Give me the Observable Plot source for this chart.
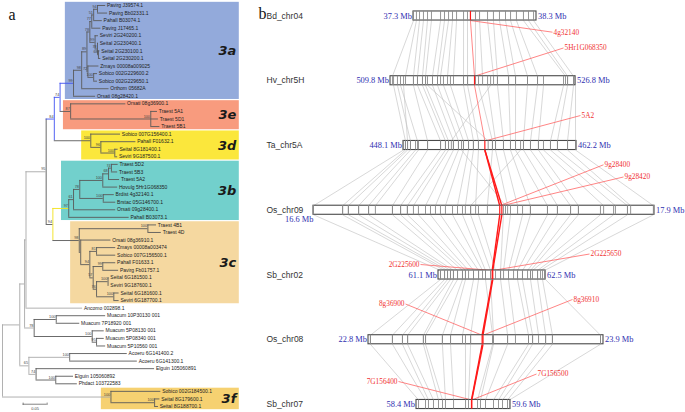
<!DOCTYPE html>
<html><head><meta charset="utf-8">
<script src="https://cdn.jsdelivr.net/npm/d3@7"></script>
<script src="https://cdn.jsdelivr.net/npm/@observablehq/plot@0.6"></script>
<style>
body{margin:0;background:#fff;}
#fig{position:relative;width:685px;height:412px;overflow:hidden;background:#fff;}
#fig > svg{position:absolute;top:0;}
</style></head><body><div id="fig"></div>
<script>
// ================= DATA: panel a (phylogenetic tree) =================
// leaves in drawing order: [name, parent node, distance from root (subst./site)]
const leaves = [
 ["Pavirg J39574.1","N94p",0.215],["Pavirg Bb02331.1","N94p",0.219],["Pahall B03074.1","N51",0.208],
 ["Pavirg J17465.1","N77",0.205],["Seviri 2G240200.1","N99s",0.200],["Seital 2G230400.1","N78s",0.200],
 ["Seital 2G230100.1","N68s",0.203],["Seital 2G230200.1","N68s",0.205],["Zmays 00008a009025","N72",0.201],
 ["Sobico 002G229600.2","N100s",0.198],["Sobico 002G229650.1","N100s",0.198],["Orthom 05682A","N98a",0.222],
 ["Orsati 08g28420.1","N99a",0.194],["Orsati 08g36900.1","N87",0.257],["Traest 5A1","N100t",0.323],
 ["Traest 5D1","N100t",0.325],["Traest 5B1","N100t",0.328],["Sobico 007G156400.1","N3d",0.246],
 ["Pahall F01632.1","N96",0.278],["Seital 8G181400.1","N100s2",0.241],["Seviri 9G187500.1","N100s2",0.240],
 ["Traest 5D2","N74t",0.241],["Traest 5B3","N74t",0.240],["Traest 5A2","N68t",0.244],
 ["Hovulg 5Hr1G068350","N100tr",0.240],["Brdist 4g32140.1","N100br",0.233],["Brstac 05G146700.1","N100br",0.236],
 ["Orsati 09g28400.1","N61",0.236],["Pahall B03073.1","N97",0.264],["Traest 4B1","N100q",0.321],
 ["Traest 4D","N100q",0.331],["Orsati 08g36910.1","No",0.226],["Zmays 00008a003474","N81",0.236],
 ["Sobico 007G156500.1","N81",0.236],["Pahall F01633.1","N99c",0.236],["Pavirg Fb01757.1","N99c",0.242],
 ["Seital 6G181500.1","N100c",0.222],["Seviri 9G187600.1","N100c",0.222],["Seital 6G181600.1","N100d",0.243],
 ["Seviri 6G187700.1","N100d",0.243],["Ancomo 002898.1","U2",0.167],["Muacum 10P30130 001","N100m1",0.215],
 ["Muacum 7P18920 001","N100m1",0.161],["Muacum 5P08130 001","N100m2",0.212],["Muacum 5P08340 001","N95m",0.212],
 ["Muacum 5P10560 001","N95m",0.215],["Acoeru 6G141400.2","N100ac",0.260],["Acoeru 6G141300.1","N100ac",0.281],
 ["Elguin 105060891","N74e",0.317],["Elguin 105060892","N100e",0.148],["Phdact 103722583","N100e",0.156],
 ["Sobico 002G184500.1","N100f",0.330],["Seital 8G179600.1","N100f2",0.328],["Seital 8G188700.1","N100f2",0.325]
];
// internal nodes: [id, parent, distance from root, bootstrap support]
const internalNodes = [
 ["R",null,0,""],["B","R",0.036,""],["U","B",0.046,""],["U2","U",0.049,""],
 ["N95","U2",0.091,"95"],["N84","N95",0.108,"84"],["N74","N84",0.120,"74"],["N99a","N74",0.148,"99"],
 ["N98a","N99a",0.165,"98"],["N89","N98a",0.176,"89"],["N78a","N89",0.182,"78"],["N77","N78a",0.186,"77"],
 ["N51","N77",0.190,"51"],["N94p","N51",0.198,"94"],["N99s","N78a",0.193,"99"],["N78s","N99s",0.198,"78"],
 ["N68s","N78s",0.200,"68"],["N72","N89",0.178,"72"],["N100s","N72",0.190,"100"],["N87","N74",0.142,"87"],
 ["N100t","N87",0.309,"100"],["N3d","N84",0.184,"100"],["N96","N3d",0.205,"96"],["N100s2","N96",0.234,"100"],
 ["N94","N95",0.105,"94"],["N97","N94",0.138,"97"],["N61","N97",0.148,"61"],["N78b","N61",0.161,"78"],
 ["N100tr","N78b",0.209,"100"],["N68t","N100tr",0.221,"68"],["N74t","N68t",0.227,"74"],["N100br","N78b",0.210,"100"],
 ["N98c","N94",0.160,"98"],["N100q","N98c",0.303,"100"],["No","N98c",0.163,""],["N94b","No",0.182,"94"],
 ["N81","N94b",0.196,"81"],["N57","N94b",0.189,"57"],["N99c","N57",0.209,"99"],["N76","N57",0.196,"76"],
 ["N100c","N76",0.220,"100"],["N100d","N76",0.232,"100"],["N78m","U",0.066,"78"],["N100m1","N78m",0.112,"100"],
 ["N100m2","N78m",0.187,"100"],["N95m","N100m2",0.196,"95"],["N65","B",0.055,"65"],["N100ac","N65",0.140,"100"],
 ["N74e","N65",0.070,"74"],["N100e","N74e",0.111,"100"],["N100f","R",0.226,"100"],["N100f2","N100f",0.317,"100"]
];
// clades: name, first leaf, last leaf (1-based), distance where shading starts
const cladeNames = ["3a","3e","3d","3b","3c","3f"];
const cladeFirst = [1,14,18,22,30,52];
const cladeLast  = [13,17,21,29,40,54];
const cladeFrom  = [0.131,0.127,0.165,0.123,0.142,0.206];
const scaleBarLength = 0.05;

// ================= DATA: panel b (synteny) =================
const chromNames = ["Bd_chr04","Hv_chr5H","Ta_chr5A","Os_chr09","Sb_chr02","Os_chr08","Sb_chr07"];
const chromStart = [37.3,509.8,448.1,16.6,61.1,22.8,58.4];   // Mb
const chromEnd   = [38.3,526.8,462.2,17.9,62.5,23.9,59.6];   // Mb
// collinear gene pairs between neighbouring chromosomes: [upper Mb, lower Mb]
const linksBdHv = [[37.300,509.98],[37.324,511.18],[37.349,511.91],[37.381,512.28],[37.414,512.74],[37.446,513.02],[37.520,513.66],[37.552,514.12],[37.585,514.40],[37.617,515.04],[37.650,515.59],[37.707,516.51],[37.739,516.88],[37.804,517.61],[37.837,518.26],[37.902,519.27],[37.950,519.63],[37.999,520.65],[38.048,521.29],[38.089,522.39],[38.137,523.31],[38.194,525.88],[38.235,526.07],[38.276,526.62]];
const linksHvTa = [[510.08,448.26],[510.44,448.67],[510.72,449.24],[511.00,448.43],[511.91,450.06],[512.28,451.12],[512.74,451.52],[513.02,451.77],[513.66,452.17],[514.12,452.58],[514.67,452.99],[515.31,453.40],[516.51,453.80],[516.88,454.21],[517.89,455.35],[518.72,455.60],[519.63,456.25],[520.65,456.82],[521.29,457.23],[522.39,457.88],[523.31,458.45],[523.86,459.10],[525.70,460.08],[526.07,460.65],[526.62,461.47],[526.80,462.12],[513.20,455.00],[519.00,452.00]];
const linksTaOs09 = [[448.10,16.600],[448.26,16.711],[448.43,16.733],[448.67,16.772],[449.08,16.810],[449.32,16.836],[450.06,16.901],[451.12,16.932],[451.52,16.958],[451.77,16.981],[452.17,17.027],[452.58,17.065],[452.99,17.103],[453.40,17.149],[453.80,17.179],[454.21,17.218],[455.35,17.263],[455.60,17.340],[456.25,17.378],[456.82,17.427],[457.23,17.492],[457.88,17.530],[458.45,17.580],[459.10,17.610],[459.51,17.706],[460.08,17.751],[460.65,17.797],[461.47,17.809],[462.12,17.896],[452.83,17.332],[457.64,17.199]];
const linksOs09Sb02 = [[16.600,61.126],[16.711,61.179],[16.733,61.218],[16.772,61.257],[16.810,61.296],[16.901,61.349],[16.932,61.414],[16.958,61.453],[17.000,61.493],[17.046,61.558],[17.084,61.624],[17.130,61.676],[17.168,61.715],[17.199,61.781],[17.229,61.846],[17.324,61.912],[17.351,61.951],[17.397,62.016],[17.427,62.082],[17.492,62.134],[17.530,62.199],[17.580,62.265],[17.610,62.304],[17.694,62.330],[17.744,62.396],[17.797,62.435],[17.896,62.487]];
const linksSb02Os08 = [[61.126,22.809],[61.179,22.912],[61.218,22.959],[61.257,22.983],[61.296,23.057],[61.349,23.067],[61.414,23.146],[61.453,23.184],[61.558,23.240],[61.624,23.278],[61.715,23.381],[61.781,23.385],[61.912,23.451],[62.016,23.488],[62.134,23.549],[62.199,23.568],[62.304,23.596],[62.396,23.629],[62.461,23.661],[62.500,23.886]];
const linksOs08Sb07 = [[22.809,58.426],[22.912,58.515],[22.959,58.553],[22.983,58.617],[23.057,58.681],[23.067,58.732],[23.146,58.770],[23.184,58.873],[23.254,59.026],[23.278,59.064],[23.381,59.179],[23.385,59.217],[23.451,59.281],[23.549,59.383],[23.568,59.447],[23.629,59.498],[23.661,59.562],[23.886,59.588]];
// focal genes: [chromosome index, gene, Mb]
const focalGenes = [[0,"4g32140",37.763],[1,"5Hr1G068350",517.52],[2,"5A2",454.73],[3,"9g28400",17.310],[3,"9g28420",17.318],[4,"2G225600",61.803],[4,"2G225650",61.810],[5,"8g36900",23.332],[5,"8g36910",23.336],[6,"7G156400",59.102],[6,"7G156500",59.106]];
const focalLinks = [["4g32140","5Hr1G068350"],["5Hr1G068350","5A2"],["5A2","9g28400"],["5A2","9g28420"],["9g28400","2G225600"],["9g28420","2G225650"],["2G225600","8g36900"],["2G225650","8g36910"],["8g36900","7G156400"],["8g36910","7G156500"]];

// ================= LAYOUT / STYLE (not data) =================
const cladeColors = ["#93aadb","#f89b7e","#fbe73c","#72d0cc","#f5d8a0","#f6d171"];
const blueH = new Set(["N84","N74","N99a"]), blueV = new Set(["N84","N74"]);
const yellowH = new Set(["N97"]), yellowV = new Set(["N94"]);
const chromLeft  = [413,390,403,313,438,368,416];   // drawn span, figure px
const chromRight = [536,575,576,654,545,603,510];
const nameX = 266;
const geneLabelLayout = {"4g32140":[553,0.250,"start"],"5Hr1G068350":[564,0.494,"start"],"5A2":[581,1.537,"start"],
 "9g28400":[604,2.298,"start"],"9g28420":[624,2.486,"start"],"2G225600":[419,3.838,"end"],"2G225650":[590,3.676,"start"],
 "8g36900":[404,4.448,"end"],"8g36910":[573,4.378,"start"],"7G156400":[397,5.645,"end"],"7G156500":[537,5.529,"start"]};

// ================= PANEL A =================
const nodeMap = new Map();
internalNodes.forEach(([id,parent,dist,support]) => nodeMap.set(id,{id,parent,dist,support,children:[],leaf:false}));
leaves.forEach(([name,parent,dist],i) => nodeMap.set(name,{id:name,parent,dist,children:[],leaf:true,y:i+1}));
for (const n of nodeMap.values()) if (n.parent) nodeMap.get(n.parent).children.push(n);
function setY(n){ if(n.leaf) return n.y; const ys=n.children.map(setY); n.ymin=Math.min(...ys); n.ymax=Math.max(...ys); n.y=(n.ymin+n.ymax)/2; return n.y; }
setY(nodeMap.get("R"));
const all = [...nodeMap.values()];
const hSegs = all.filter(n=>n.parent).map(n=>{const p=nodeMap.get(n.parent);
  return {x1:p.dist,x2:n.dist,y:n.y,c: blueH.has(n.id)?"#3f51f0":yellowH.has(n.id)?"#f2e21a":(p.dist<0.06?"#a8a8a8":"#5a5a5a")};});
const vSegs = all.filter(n=>!n.leaf).map(n=>({x:n.dist,y1:n.ymin,y2:n.ymax,
  c: blueV.has(n.id)?"#3f51f0":yellowV.has(n.id)?"#f2e21a":(n.dist<0.06?"#a8a8a8":"#5a5a5a")}));
const supports = all.filter(n=>!n.leaf && n.support);
const xMax = 0.4935;
const clades = cladeNames.map((name,i)=>({name,y1:cladeFirst[i]-0.42,y2:cladeLast[i]+0.42,x1:cladeFrom[i],fill:cladeColors[i],ym:(cladeFirst[i]+cladeLast[i])/2}));
const leafData = leaves.map(([name,parent,dist],i)=>({name,dist,y:i+1}));
const barY = leaves.length - 0.3, barX0 = 0.043;

const tree = Plot.plot({
  width: 240, height: 412, marginLeft: 2, marginRight: 0, marginTop: 5, marginBottom: 6,
  x: {domain: [0, 0.496], axis: null},
  y: {domain: [1, leaves.length], reverse: true, axis: null},
  style: {background: "transparent", fontFamily: "'Liberation Sans', Arial, sans-serif"},
  marks: [
    Plot.rect(clades, {x1: "x1", x2: () => xMax, y1: "y1", y2: "y2", fill: "fill"}),
    Plot.ruleX(vSegs, {x: "x", y1: "y1", y2: "y2", stroke: "c", strokeWidth: 0.9}),
    Plot.ruleY(hSegs, {x1: "x1", x2: "x2", y: "y", stroke: "c", strokeWidth: 0.9}),
    Plot.text(leafData, {x: "dist", y: "y", text: "name", textAnchor: "start", dx: 1.3, fontSize: 5, fill: "#222"}),
    Plot.text(supports, {x: "dist", y: "y", text: "support", textAnchor: "end", dx: -0.8, dy: -2.6, fontSize: 3.8, fill: "#444"}),
    Plot.text(clades, {x: () => xMax, y: "ym", text: "name", textAnchor: "end", dx: -3, fontSize: 13, fontWeight: "bold", fontStyle: "italic", fill: "#1a1a1a", fontFamily: "'DejaVu Sans', sans-serif"}),
    Plot.ruleY([barY], {x1: barX0, x2: barX0 + scaleBarLength, stroke: "#666", strokeWidth: 0.8}),
    Plot.ruleX([barX0, barX0 + scaleBarLength], {y1: barY - 0.15, y2: barY + 0.15, stroke: "#666", strokeWidth: 0.8}),
    Plot.text([String(scaleBarLength)], {x: barX0 + scaleBarLength/2, y: barY + 0.65, fontSize: 4, fill: "#444"}),
    Plot.text(["a"], {frameAnchor: "top-left", dx: 6, dy: 9, lineAnchor: "middle", fontSize: 16, fontFamily: "'Liberation Serif', 'Times New Roman', serif", fill: "#111"})
  ]
});
tree.style.left = "0px";

// ================= PANEL B =================
const hh = 0.07;
const gx = (c, mb) => chromLeft[c] + (mb - chromStart[c]) / (chromEnd[c] - chromStart[c]) * (chromRight[c] - chromLeft[c]);
const pairLinks = [linksBdHv, linksHvTa, linksTaOs09, linksOs09Sb02, linksSb02Os08, linksOs08Sb07];
const grayLinks = pairLinks.flatMap((arr, r) => arr.map(([a,b]) => ({x1: gx(r,a), x2: gx(r+1,b), y1: r + hh, y2: r + 1 - hh})));
const ticks = [];
pairLinks.forEach((arr, r) => arr.forEach(([a,b]) => { ticks.push({x: gx(r,a), r}); ticks.push({x: gx(r+1,b), r: r+1}); }));
const geneMap = new Map(focalGenes.map(([c,g,mb]) => [g, {c, g, mb, x: gx(c, mb)}]));
const redTicks = focalGenes.map(([c,g,mb]) => ({x: gx(c,mb), r: c}));
const redLinks = focalLinks.map(([a,b]) => {const A = geneMap.get(a), B = geneMap.get(b);
  return {x1: A.x, y1: A.c + hh, x2: B.x, y2: B.c - hh, w: A.c < 2 ? 0.8 : 1.4, s: A.c < 2 ? "#ff6a6a" : "#ff1a1a"};});
const geneLabels = focalGenes.map(([c,g,mb]) => {const [lx, ly, anchor] = geneLabelLayout[g]; const gxv = gx(c,mb);
  return {g, lx, ly, anchor, gx: gxv, gy: ly > c ? c + hh : c - hh, ex: anchor === "start" ? lx - 1 : lx + 1};});
const chroms = chromNames.map((name, r) => ({name, r, x1: chromLeft[r], x2: chromRight[r],
  sLab: chromStart[r].toFixed(1) + " Mb", eLab: chromEnd[r].toFixed(1) + " Mb", below: r === 3}));

const syn = Plot.plot({
  width: 445, height: 412, marginLeft: 0, marginRight: 0, marginTop: 15.5, marginBottom: 8,
  x: {domain: [240, 685], axis: null},
  y: {domain: [0, 6], reverse: true, axis: null},
  style: {background: "transparent", fontFamily: "'Liberation Serif', 'Times New Roman', serif"},
  marks: [
    Plot.link(grayLinks, {x1: "x1", y1: "y1", x2: "x2", y2: "y2", stroke: "#bdbdbd", strokeWidth: 0.6}),
    Plot.link(redLinks, {x1: "x1", y1: "y1", x2: "x2", y2: "y2", stroke: "s", strokeWidth: "w"}),
    Plot.link(geneLabels, {x1: "gx", y1: "gy", x2: "ex", y2: "ly", stroke: "#ff5c5c", strokeWidth: 0.75}),
    Plot.rect(chroms, {x1: "x1", x2: "x2", y1: d => d.r - hh, y2: d => d.r + hh, fill: "white", stroke: "#4a4a4a", strokeWidth: 1.1}),
    Plot.ruleX(ticks, {x: "x", y1: d => d.r - hh, y2: d => d.r + hh, stroke: "#8a8a8a", strokeWidth: 0.9}),
    Plot.ruleX(redTicks, {x: "x", y1: d => d.r - hh, y2: d => d.r + hh, stroke: "#ff1a1a", strokeWidth: 1.2}),
    Plot.text(geneLabels.filter(d => d.anchor === "start"), {x: "lx", y: "ly", text: "g", textAnchor: "start", fontSize: 7.3, fill: "#f03232"}),
    Plot.text(geneLabels.filter(d => d.anchor === "end"), {x: "lx", y: "ly", text: "g", textAnchor: "end", fontSize: 7.3, fill: "#f03232"}),
    Plot.text(chroms, {x: () => nameX, y: "r", text: "name", textAnchor: "start", fontSize: 8.5, fill: "#333", fontFamily: "'Liberation Sans', Arial, sans-serif"}),
    Plot.text(chroms, {x: d => d.below ? d.x1 : d.x1 - 1.5, y: d => d.below ? d.r + 0.147 : d.r, text: "sLab", textAnchor: "end", fontSize: 8.4, fill: "#2f2fb0"}),
    Plot.text(chroms, {x: d => d.x2 + 1.5, y: "r", text: "eLab", textAnchor: "start", fontSize: 8.4, fill: "#2f2fb0"}),
    Plot.text(["b"], {frameAnchor: "top-left", dx: 18, dy: -2, lineAnchor: "middle", fontSize: 16, fill: "#111"})
  ]
});
syn.style.left = "240px";
const fig = document.getElementById("fig");
fig.appendChild(tree);
fig.appendChild(syn);
</script></body></html>
